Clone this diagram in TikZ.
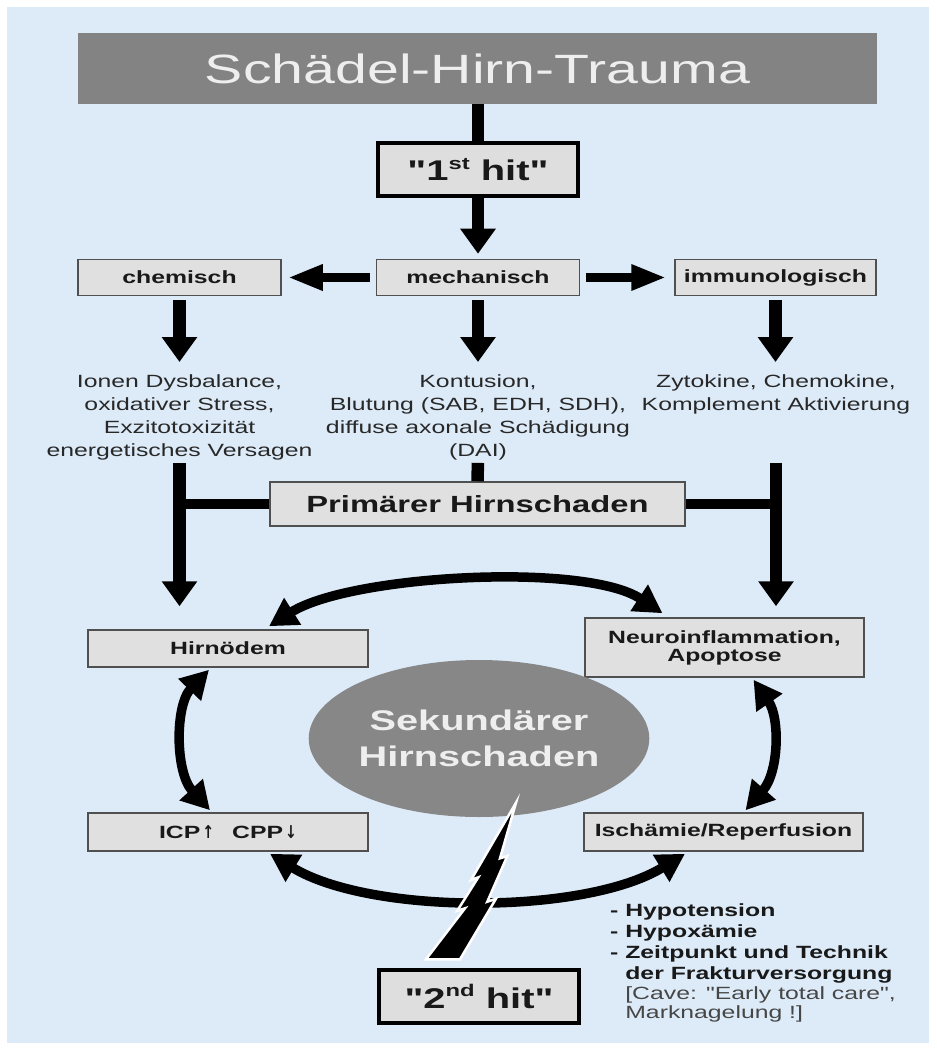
\documentclass[tikz,border=0pt]{standalone}
\usepackage{fontspec}
\setmainfont{Liberation Sans}[FakeStretch=1.4, Ligatures=TeXOff]
\newfontfamily\symf{DejaVu Sans}[FakeStretch=0.8]
\usetikzlibrary{arrows.meta,shapes.geometric}
\definecolor{bgblue}{RGB}{221,235,248}
\definecolor{boxgray}{RGB}{224,224,224}
\definecolor{boxline}{RGB}{80,80,80}
\definecolor{boxtext}{RGB}{25,25,25}
\definecolor{titlegray}{RGB}{131,131,131}
\definecolor{titletext}{RGB}{238,238,238}
\definecolor{circgray}{RGB}{135,135,135}
\definecolor{hitgray}{RGB}{222,222,222}
\definecolor{desctext}{RGB}{40,40,40}
\definecolor{cavetext}{RGB}{70,70,70}
\begin{document}
\begin{tikzpicture}[x=1pt,y=-1pt,
  box/.style={draw=boxline, line width=1.5pt, fill=boxgray, inner sep=0pt,
    font=\bfseries\fontsize{17.7}{18}\selectfont, text=boxtext},
  hitbox/.style={draw=black, line width=4.5pt, fill=hitgray, inner sep=0pt,
    minimum width=200pt, minimum height=53pt,
    font=\bfseries\fontsize{28.5}{30}\selectfont, text=boxtext},
  desc/.style={anchor=north, align=center, inner sep=0pt,
    font=\fontsize{17.7}{23}\selectfont, text=desctext},
  vbar/.style={line width=12.5pt},
  hbar/.style={line width=9.5pt},
  vhead/.style={-{Triangle[length=25pt,width=34pt]}},
  hhead/.style={-{Triangle[length=35pt,width=24pt]}},
  cline/.style={line width=9.5pt, {Triangle[length=28pt,width=30pt]}-{Triangle[length=28pt,width=30pt]}}
]
% background
\fill[white] (0,0) rectangle (936,1048);
\fill[bgblue] (7,7) rectangle (929,1043);

% title
\node[fill=titlegray, minimum width=799pt, minimum height=71pt, inner sep=0pt,
  text=titletext, font=\fontsize{40.9}{46}\selectfont] (title) at (477.5,68.5) {Schädel-Hirn-Trauma};

% first hit
\node[hitbox] (hit1) at (478,169.5) {"1\raisebox{11.5pt}{\fontsize{17}{17}\selectfont st} hit"};

% three mechanisms
\node[box, minimum width=203pt, minimum height=36pt] (chem) at (179.5,277.5) {chemisch};
\node[box, minimum width=203pt, minimum height=36pt] (mech) at (478,277.5) {mechanisch};
\node[box, minimum width=201pt, minimum height=36pt] (immun) at (775.5,277.5) {immunologisch};

% descriptions
\node[desc] (tchem) at (179.5,374) {Ionen Dysbalance,\\oxidativer Stress,\\Exzitotoxizität\\energetisches Versagen};
\node[desc] (tmech) at (478,374) {Kontusion,\\Blutung (SAB, EDH, SDH),\\diffuse axonale Schädigung\\(DAI)};
\node[desc] (timmun) at (776,374) {Zytokine, Chemokine,\\Komplement Aktivierung};

% primary damage
\node[box, minimum width=415pt, minimum height=44pt, font=\bfseries\fontsize{23.4}{26}\selectfont] (prim) at (477.5,504) {Primärer Hirnschaden};

% secondary boxes
\node[box, minimum width=280pt, minimum height=37pt] (oedem) at (228,648.5) {Hirnödem};
\node[box, minimum width=279pt, minimum height=59pt, align=center] (neuro) at (724.5,647.5) {Neuroinflammation,\\Apoptose};
\node[box, minimum width=280pt, minimum height=38pt] (icp) at (228,832) {ICP\hspace{2pt}{\symf\bfseries ↑}\hspace{18pt}CPP\hspace{2pt}{\symf\bfseries ↓}};
\node[box, minimum width=279pt, minimum height=38pt] (isch) at (723.5,832) {Ischämie/Reperfusion};

% secondary damage circle
\node[ellipse, fill=circgray, minimum width=296pt, minimum height=157pt, inner sep=0pt,
  text=titletext, align=center, font=\bfseries\fontsize{28.4}{35.6}\selectfont] (sek) at (479,738.5) {Sekundärer\\Hirnschaden};

% second hit
\node[hitbox] (hit2) at (479,996.5) {"2\raisebox{11.5pt}{\fontsize{17}{17}\selectfont nd} hit"};

% list of causes
\node[anchor=north west, align=left, inner sep=0pt, text=boxtext,
  font=\bfseries\fontsize{17.7}{21.2}\selectfont] (list) at (610,903)
  {- Hypotension\\- Hypoxämie\\- Zeitpunkt und Technik\\\phantom{- }der Frakturversorgung\\[-1.5pt]
   {\phantom{- }\mdseries\color{cavetext}[Cave: "Early total care",}\\[-2pt]
   {\phantom{- }\mdseries\color{cavetext}Marknagelung !]}};

% top connectors
\draw[vbar] (title.south -| hit1.north) -- (hit1.north);
\draw[vbar, vhead, shorten >=5pt] (hit1.south) -- (mech.north);
\draw[hbar, hhead, shorten <=6pt, shorten >=6pt] (mech.west) -- (chem.east);
\draw[hbar, hhead, shorten <=6pt, shorten >=8pt] (mech.east) -- (immun.west);
\draw[vbar, vhead, shorten <=4pt, shorten >=12pt] (chem.south) -- (tchem.north);
\draw[vbar, vhead, shorten <=4pt, shorten >=12pt] (mech.south) -- (tmech.north);
\draw[vbar, vhead, shorten <=4pt, shorten >=12pt] (immun.south) -- (immun.south |- timmun.north);

% primary damage bars
\coordinate (rtop) at ([yshift=-3pt]tchem.south -| timmun.south);
\draw[vbar, vhead, shorten <=3pt, shorten >=23pt] (tchem.south) -- (tchem.south |- oedem.north);
\draw[vbar, vhead, shorten >=11pt] (rtop) -- (rtop |- neuro.north);
\draw[vbar, shorten <=3pt] (tmech.south) -- (prim.north);
\draw[hbar] (prim.west) -- (prim.west -| tchem.south);
\draw[hbar] (prim.east) -- (prim.east -| timmun.south);

% cycle of secondary damage
\draw[cline] ([xshift=41pt,yshift=3pt]oedem.north) .. controls (350,575) and (585,562) .. ([xshift=-62pt,yshift=4pt]neuro.north);
\draw[cline] ([xshift=-19pt,yshift=-2pt]oedem.south) .. controls (175,705) and (175,772) .. ([xshift=-18pt,yshift=2pt]icp.north);
\draw[cline] ([xshift=29pt,yshift=-2pt]neuro.south) .. controls (780,718) and (779,772) .. ([xshift=22pt,yshift=2pt]isch.north);
\draw[cline] ([xshift=42pt,yshift=-2pt]icp.south) .. controls (370,915) and (585,915) .. ([xshift=-38.5pt,yshift=-2pt]isch.south);

% lightning bolt
\filldraw[fill=black, draw=white, line width=2.5pt, line join=miter]
  (516,802.7) -- (500,858.3) -- (507.3,856) -- (487.3,901.7) -- (496,898.7)
  -- (460,959.3) -- (426,959.3) -- (465,908.3) -- (457.3,910.7)
  -- (478.3,877.3) -- (471,880) -- cycle;
\end{tikzpicture}
\end{document}
